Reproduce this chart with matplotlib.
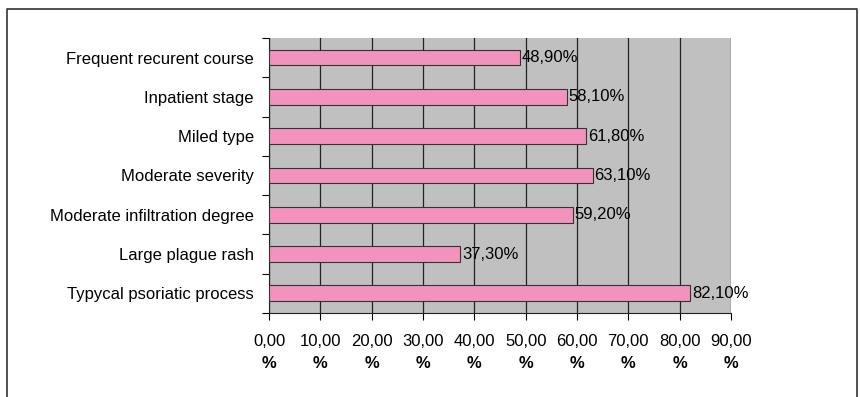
import matplotlib.pyplot as plt
import matplotlib.transforms as mtransforms
from matplotlib.lines import Line2D

plt.rcParams['font.family'] = ['Liberation Sans', 'DejaVu Sans']

categories = ['Frequent recurent course', 'Inpatient stage', 'Miled type',
              'Moderate severity', 'Moderate infiltration degree',
              'Large plague rash', 'Typycal psoriatic process']
values = [48.9, 58.1, 61.8, 63.1, 59.2, 37.3, 82.1]
value_labels = ['48,90%', '58,10%', '61,80%', '63,10%', '59,20%', '37,30%', '82,10%']
xticks = [0, 10, 20, 30, 40, 50, 60, 70, 80, 90]
xtick_labels = ['0,00', '10,00', '20,00', '30,00', '40,00',
                '50,00', '60,00', '70,00', '80,00', '90,00']

fig = plt.figure(figsize=(8.6, 3.97), dpi=100)
ax = fig.add_axes([0.3128, 0.2116, 0.5372, 0.6927])
ax.set_facecolor('#c0c0c0')

y = list(range(len(categories)))[::-1]
ax.barh(y, values, height=0.4, color='#f393bd', edgecolor='#333333', linewidth=0.8, zorder=3)
for yi, v, lab in zip(y, values, value_labels):
    ax.text(v + 0.3, yi, lab, va='center', ha='left', fontsize=12, zorder=4)

ax.set_xlim(0, 90)
ax.set_ylim(-0.5, len(categories) - 0.5)
ax.set_xticks(xticks)
ax.set_xticklabels(xtick_labels, fontsize=12)
ax.set_yticks(y)
ax.set_yticklabels(categories, fontsize=12)
ax.tick_params(axis='y', length=0, pad=11)
ax.set_yticks([i - 0.5 for i in range(len(categories) + 1)], minor=True)
ax.tick_params(axis='y', which='minor', length=5, width=0.8)
ax.tick_params(axis='x', length=5, width=0.8, pad=10)
ax.grid(axis='x', color='#222222', linewidth=0.9, zorder=1)
for s in ['top', 'right']:
    ax.spines[s].set_visible(False)
ax.spines['left'].set_color('#222222')
ax.spines['bottom'].set_color('#222222')

# bold "%" under each tick value
trans = mtransforms.blended_transform_factory(ax.transData, fig.transFigure)
for xt in xticks:
    fig.text(xt, 1 - 364 / 397, '%', transform=trans, ha='center', va='center',
             fontsize=12, fontweight='bold')

# frame round the figure (open at the bottom)
fx0, fx1, fy1 = 7 / 860, 857 / 860, 1 - 9 / 397
fig.add_artist(Line2D([fx0, fx0, fx1, fx1], [0, fy1, fy1, 0], color='#333333', linewidth=1.2))

fig.savefig('out.png', dpi=100)
